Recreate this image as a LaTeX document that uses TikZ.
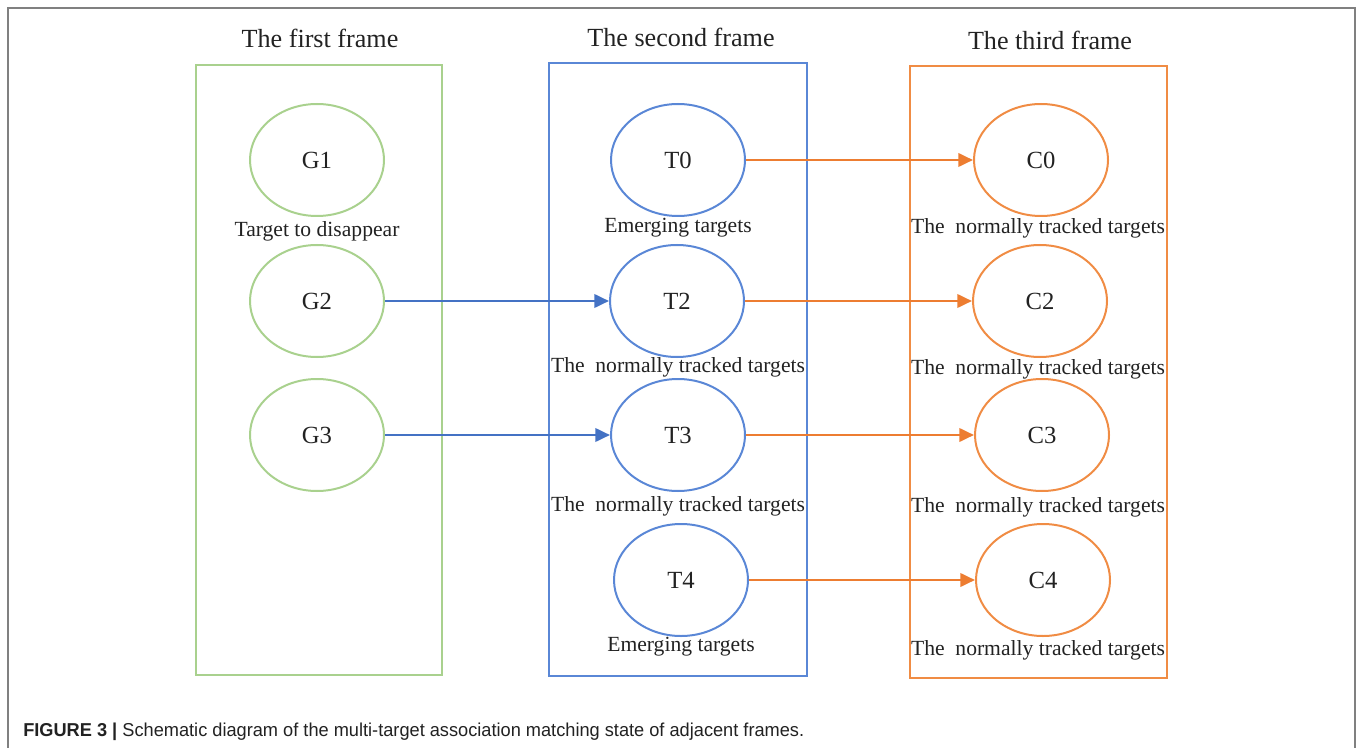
\documentclass[tikz,border=0pt]{standalone}
\usepackage{fontspec}
\setmainfont{Liberation Serif}
\newfontfamily\capfont{Liberation Sans}
\usetikzlibrary{shapes.geometric,arrows.meta}

\definecolor{inkgray}{HTML}{222222}
\definecolor{rulegray}{HTML}{808080}
\definecolor{gline}{HTML}{A9D18E}
\definecolor{bline}{HTML}{5A87D6}
\definecolor{barrow}{HTML}{4472C4}
\definecolor{oline}{HTML}{F08C44}
\definecolor{oarrow}{HTML}{ED7D31}

\tikzset{
  framebox/.style={line width=1.5pt},
  frametitle/.style={text=inkgray, font=\fontsize{19.6}{22}\selectfont, inner sep=0pt},
  tgt/.style={ellipse, line width=1.5pt, minimum width=100.5pt, minimum height=84pt,
              inner sep=0pt, text=inkgray, font=\fontsize{18.5}{21}\selectfont},
  lbl/.style={text=inkgray, font=\fontsize{16.2}{19}\selectfont, inner sep=0pt},
  link/.style={line width=2pt, -{Triangle[length=11pt,width=10pt]}},
}

\begin{document}
\begin{tikzpicture}[x=0.75pt, y=-0.75pt]
\useasboundingbox (0,0) rectangle (1358,748);

% page rule around the figure (open at the bottom)
\draw[rulegray, line width=1.5pt] (8,748) -- (8,8) -- (1355,8) -- (1355,748);

% frame boxes
\draw[framebox, draw=gline] (196,65) rectangle (442,675);
\draw[framebox, draw=bline] (549,63) rectangle (807,676);
\draw[framebox, draw=oline] (910,66) rectangle (1167,678);

% frame titles
\node[frametitle] (t1) at (320,38) {The first frame};
\node[frametitle] (t2) at (681,37) {The second frame};
\node[frametitle] (t3) at (1050,40) {The third frame};

% first frame targets
\node[tgt, draw=gline] (G1) at (317,160) {G1};
\node[tgt, draw=gline] (G2) at (317,301) {G2};
\node[tgt, draw=gline] (G3) at (317,435) {G3};
\node[lbl] (lG1) at (317,231) {Target to disappear};

% second frame targets
\node[tgt, draw=bline] (T0) at (678,160) {T0};
\node[tgt, draw=bline] (T2) at (677,301) {T2};
\node[tgt, draw=bline] (T3) at (678,435) {T3};
\node[tgt, draw=bline] (T4) at (681,580) {T4};
\node[lbl] (lT0) at (678,228) {Emerging targets};
\node[lbl] (lT2) at (678,367) {The\ \ normally tracked targets};
\node[lbl] (lT3) at (678,506) {The\ \ normally tracked targets};
\node[lbl] (lT4) at (681,647) {Emerging targets};

% third frame targets
\node[tgt, draw=oline] (C0) at (1041,160) {C0};
\node[tgt, draw=oline] (C2) at (1040,301) {C2};
\node[tgt, draw=oline] (C3) at (1042,435) {C3};
\node[tgt, draw=oline] (C4) at (1043,580) {C4};
\node[lbl] (lC0) at (1038,228) {The\ \ normally tracked targets};
\node[lbl] (lC2) at (1038,369) {The\ \ normally tracked targets};
\node[lbl] (lC3) at (1038,507) {The\ \ normally tracked targets};
\node[lbl] (lC4) at (1038,650) {The\ \ normally tracked targets};

% associations
\draw[link, barrow] (G2.east) -- (T2.west);
\draw[link, barrow] (G3.east) -- (T3.west);
\draw[link, oarrow] (T0.east) -- (C0.west);
\draw[link, oarrow] (T2.east) -- (C2.west);
\draw[link, oarrow] (T3.east) -- (C3.west);
\draw[link, oarrow] (T4.east) -- (C4.west);

% caption
\node[anchor=base west, inner sep=0pt, text=inkgray] (cap) at (23,736)
  {\scalebox{0.975}[1]{\capfont\fontsize{14}{16}\selectfont
   \textbf{FIGURE 3 |} Schematic diagram of the multi-target association matching state of adjacent frames.}};
\end{tikzpicture}
\end{document}
